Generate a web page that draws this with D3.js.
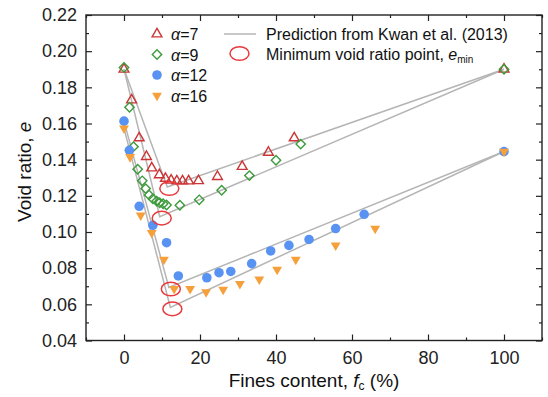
<!DOCTYPE html>
<html>
<head>
<meta charset="utf-8">
<script src="https://cdn.jsdelivr.net/npm/d3@7"></script>
<style>
  body { margin: 0; background: #fff; }
  svg { display: block; font-family: "Liberation Sans", Arial, sans-serif; }
</style>
</head>
<body>
<svg id="chart" width="548" height="397"></svg>
<script>
// Measured void ratio e against fines content fc (%) for four size ratios α
const fc7 = [0, 2.0, 4.0, 5.9, 7.3, 9.3, 10.9, 12.4, 13.9, 15.4, 17.0, 19.6, 24.6, 31.1, 38.0, 44.8, 100];
const e7  = [0.19, 0.173, 0.152, 0.1417, 0.1354, 0.1316, 0.1296, 0.1286, 0.1282, 0.1282, 0.1282, 0.1283, 0.1306, 0.1362, 0.144, 0.152, 0.19];

const fc9 = [0, 1.45, 2.5, 3.6, 4.8, 5.7, 6.6, 7.6, 8.6, 9.4, 10.3, 11.2, 14.7, 19.8, 25.7, 33.0, 40.0, 46.5, 100];
const e9  = [0.191, 0.169, 0.1472, 0.1347, 0.1283, 0.124, 0.1205, 0.1184, 0.1171, 0.1162, 0.1156, 0.1149, 0.1148, 0.1178, 0.1231, 0.1312, 0.1397, 0.1486, 0.19];

const fc12 = [0, 1.4, 4.0, 7.6, 11.2, 14.3, 21.8, 25.0, 28.1, 33.6, 38.6, 43.4, 48.7, 55.7, 63.2, 100];
const e12  = [0.1613, 0.1452, 0.1142, 0.1037, 0.0941, 0.0757, 0.0747, 0.0775, 0.0782, 0.0825, 0.0895, 0.0926, 0.0959, 0.1019, 0.1098, 0.1445];

const fc16 = [0, 1.6, 4.4, 7.3, 10.5, 13.2, 17.4, 21.6, 26.1, 30.5, 35.6, 40.3, 45.2, 55.7, 66.1, 100];
const e16  = [0.1573, 0.1415, 0.1092, 0.0995, 0.0847, 0.0686, 0.0686, 0.0668, 0.0681, 0.0714, 0.0738, 0.0792, 0.0847, 0.0926, 0.1019, 0.1445];

// Predicted minimum void ratio points (one per α)
const minFc = [11.4, 9.4, 11.8, 12.2];
const minE  = [0.1249, 0.1085, 0.0693, 0.0583];

// Prediction curves from Kwan et al. (2013): start, minimum, end
const predFc7  = [0, 11.4, 100];
const predE7   = [0.19, 0.1249, 0.19];
const predFc9  = [0, 9.4, 100];
const predE9   = [0.19, 0.1085, 0.19];
const predFc12 = [0, 11.8, 100];
const predE12  = [0.1613, 0.0693, 0.1445];
const predFc16 = [0, 12.2, 100];
const predE16  = [0.1573, 0.0583, 0.1445];

const xTicks = [0, 20, 40, 60, 80, 100];
const xMinorTicks = [-10, 10, 30, 50, 70, 90, 110];
const yTicks = [0.04, 0.06, 0.08, 0.10, 0.12, 0.14, 0.16, 0.18, 0.20, 0.22];
const yMinorTicks = [0.05, 0.07, 0.09, 0.11, 0.13, 0.15, 0.17, 0.19, 0.21];

const seriesLabels = ["7", "9", "12", "16"];

const svg = d3.select("#chart");
const plotLeft = 86, plotRight = 542, plotTop = 15, plotBottom = 340.5;

const x = d3.scaleLinear().domain([-10, 110]).range([plotLeft, plotRight]);
const y = d3.scaleLinear().domain([0.04, 0.22]).range([plotBottom, plotTop]);

const colors = {
  tri: "#cc3535",
  dia: "#3c9b3c",
  circ: "#5892f2",
  down: "#f6a03b",
  ring: "#e8393c",
  pred: "#b5b5b5"
};

// ----- axes -----
const axisColor = "#222";
function styleAxis(g) {
  g.select(".domain").remove();
  g.selectAll(".tick line").attr("stroke", axisColor).attr("stroke-width", 1.2);
  g.selectAll(".tick text").attr("fill", "#222").style("font-size", "18px")
    .style("font-family", "'Liberation Sans', Arial, sans-serif");
}

svg.append("g").attr("transform", `translate(0,${plotBottom})`)
  .call(d3.axisBottom(x).tickValues(xTicks).tickSizeInner(-6).tickSizeOuter(0).tickPadding(11).tickFormat(d3.format("d")))
  .call(styleAxis);
svg.append("g").attr("transform", `translate(0,${plotBottom})`)
  .call(d3.axisBottom(x).tickValues(xMinorTicks).tickSizeInner(-3).tickSizeOuter(0).tickFormat(""))
  .call(styleAxis);
svg.append("g").attr("transform", `translate(0,${plotTop})`)
  .call(d3.axisTop(x).tickValues(xTicks).tickSizeInner(-6).tickSizeOuter(0).tickFormat(""))
  .call(styleAxis);
svg.append("g").attr("transform", `translate(0,${plotTop})`)
  .call(d3.axisTop(x).tickValues(xMinorTicks).tickSizeInner(-3).tickSizeOuter(0).tickFormat(""))
  .call(styleAxis);

svg.append("g").attr("transform", `translate(${plotLeft},0)`)
  .call(d3.axisLeft(y).tickValues(yTicks).tickSizeInner(-6).tickSizeOuter(0).tickPadding(9).tickFormat(d3.format(".2f")))
  .call(styleAxis);
svg.append("g").attr("transform", `translate(${plotLeft},0)`)
  .call(d3.axisLeft(y).tickValues(yMinorTicks).tickSizeInner(-3).tickSizeOuter(0).tickFormat(""))
  .call(styleAxis);
svg.append("g").attr("transform", `translate(${plotRight},0)`)
  .call(d3.axisRight(y).tickValues(yTicks).tickSizeInner(-6).tickSizeOuter(0).tickFormat(""))
  .call(styleAxis);
svg.append("g").attr("transform", `translate(${plotRight},0)`)
  .call(d3.axisRight(y).tickValues(yMinorTicks).tickSizeInner(-3).tickSizeOuter(0).tickFormat(""))
  .call(styleAxis);

// plot frame
svg.append("rect")
  .attr("x", plotLeft).attr("y", plotTop)
  .attr("width", plotRight - plotLeft).attr("height", plotBottom - plotTop)
  .attr("fill", "none").attr("stroke", axisColor).attr("stroke-width", 1.4);

// axis titles
const xTitle = svg.append("text")
  .attr("x", (plotLeft + plotRight) / 2).attr("y", 387)
  .attr("text-anchor", "middle")
  .style("font-size", "19px").attr("fill", "#111");
xTitle.append("tspan").text("Fines content,  ");
xTitle.append("tspan").attr("font-style", "italic").text("f");
xTitle.append("tspan").attr("font-size", "12px").attr("dy", 3).text("c");
xTitle.append("tspan").attr("dy", -3).text(" (%)");

const yTitle = svg.append("text")
  .attr("transform", `translate(31,${(plotTop + plotBottom) / 2 - 6}) rotate(-90)`)
  .attr("text-anchor", "middle")
  .style("font-size", "19px").attr("fill", "#111");
yTitle.append("tspan").text("Void ratio, ");
yTitle.append("tspan").attr("font-style", "italic").text("e");

// ----- prediction lines -----
const line = d3.line().x(d => x(d[0])).y(d => y(d[1]));
const preds = [
  [predFc7, predE7], [predFc9, predE9], [predFc12, predE12], [predFc16, predE16]
];
svg.append("g").selectAll("path")
  .data(preds)
  .join("path")
  .attr("d", p => line(d3.zip(p[0], p[1])))
  .attr("fill", "none")
  .attr("stroke", colors.pred)
  .attr("stroke-width", 1.5);

// ----- markers -----
const triUp = d3.symbol().type(d3.symbolTriangle).size(42)();
const square = d3.symbol().type(d3.symbolSquare).size(44)();
const disc = d3.symbol().type(d3.symbolCircle).size(72)();

function drawSeries(fcs, es, path, rot, fill, stroke) {
  svg.append("g").selectAll("path")
    .data(d3.zip(fcs, es))
    .join("path")
    .attr("d", path)
    .attr("transform", d => `translate(${x(d[0])},${y(d[1])}) rotate(${rot})`)
    .attr("fill", fill)
    .attr("stroke", stroke)
    .attr("stroke-width", stroke === "none" ? 0 : 1.4);
}
drawSeries(fc7, e7, triUp, 0, "none", colors.tri);
drawSeries(fc9, e9, square, 45, "none", colors.dia);
drawSeries(fc12, e12, disc, 0, colors.circ, "none");
drawSeries(fc16, e16, triUp, 180, colors.down, "none");

// minimum void ratio rings
svg.append("g").selectAll("ellipse")
  .data(d3.zip(minFc, minE))
  .join("ellipse")
  .attr("cx", d => x(d[0]) + 2)
  .attr("cy", d => y(d[1]) + 1.5)
  .attr("rx", 9.5).attr("ry", 6.8)
  .attr("fill", "none")
  .attr("stroke", colors.ring)
  .attr("stroke-width", 1.5);

// ----- legend -----
const legend = svg.append("g").style("font-size", "16px");
const legendMarks = [
  { path: triUp, rot: 0, fill: "none", stroke: colors.tri },
  { path: square, rot: 45, fill: "none", stroke: colors.dia },
  { path: disc, rot: 0, fill: colors.circ, stroke: "none" },
  { path: triUp, rot: 180, fill: colors.down, stroke: "none" }
];
const rowY = [34, 54.5, 75, 95.5];
legendMarks.forEach((m, i) => {
  legend.append("path")
    .attr("d", m.path)
    .attr("transform", `translate(157,${rowY[i]}) rotate(${m.rot})`)
    .attr("fill", m.fill).attr("stroke", m.stroke)
    .attr("stroke-width", m.stroke === "none" ? 0 : 1.4);
  const t = legend.append("text").attr("x", 171).attr("y", rowY[i] + 6).attr("fill", "#111");
  t.append("tspan").attr("font-style", "italic").text("α");
  t.append("tspan").text("=" + seriesLabels[i]);
});

legend.append("line")
  .attr("x1", 224).attr("x2", 256).attr("y1", 34).attr("y2", 34)
  .attr("stroke", colors.pred).attr("stroke-width", 1.5);
legend.append("text").attr("x", 266).attr("y", 40).attr("fill", "#111")
  .text("Prediction from Kwan et al. (2013)");

legend.append("ellipse")
  .attr("cx", 239.5).attr("cy", 53.5).attr("rx", 9.5).attr("ry", 6.8)
  .attr("fill", "none").attr("stroke", colors.ring).attr("stroke-width", 1.5);
const minLabel = legend.append("text").attr("x", 266).attr("y", 60).attr("fill", "#111");
minLabel.append("tspan").text("Minimum void ratio point, ");
minLabel.append("tspan").attr("font-style", "italic").text("e");
minLabel.append("tspan").attr("font-size", "10px").attr("dy", 3).text("min");
</script>
</body>
</html>
